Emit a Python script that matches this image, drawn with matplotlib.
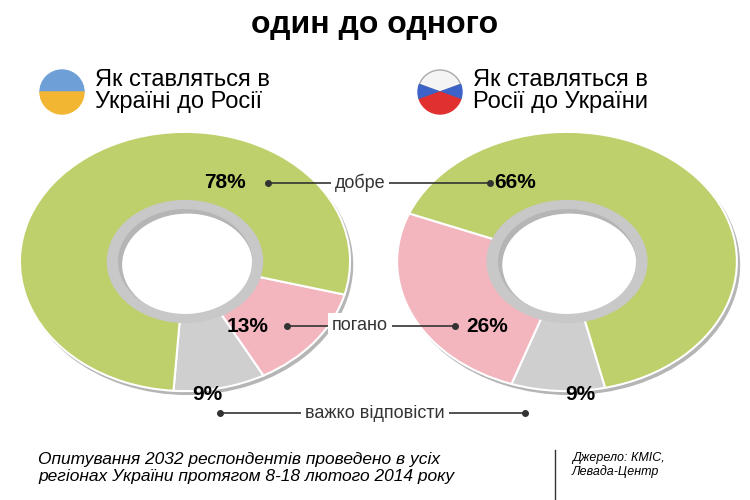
import matplotlib.pyplot as plt
from matplotlib.patches import Wedge

# data
labels = ['добре', 'погано', 'важко відповісти']
ua_to_ru = [78, 13, 9]
ru_to_ua = [66, 26, 9]
colors = ['#bdd06b', '#f3b6bf', '#cfcfcf']

title = 'один до одного'
head_left = 'Як ставляться в\nУкраїні до Росії'
head_right = 'Як ставляться в\nРосії до України'
note = 'Опитування 2032 респондентів проведено в усіх\nрегіонах України протягом 8-18 лютого 2014 року'
source = 'Джерело: КМІС,\nЛевада-Центр'

plt.rcParams['font.family'] = ['Liberation Sans', 'DejaVu Sans']
W, H = 750, 500
fig = plt.figure(figsize=(7.5, 5), dpi=100)

def donut(x0, x1, y0, y1, vals, start, clockwise):
    ax = fig.add_axes([x0 / W, 1 - y1 / H, (x1 - x0) / W, (y1 - y0) / H])
    ax.add_patch(Wedge((0.015, -0.025), 1.0, 0, 360, width=0.6, color='#b5b5b5', zorder=0))
    ax.pie(vals, colors=colors[::-1], radius=1.0, startangle=start, counterclock=not clockwise,
           wedgeprops=dict(width=0.57, edgecolor='white', linewidth=1.5))
    ax.add_patch(Wedge((0, 0), 0.47, 0, 360, width=0.06, color='#c8c8c8'))
    ax.set_aspect('auto')
    ax.set_xlim(-1.03, 1.03)
    ax.set_ylim(-1.03, 1.03)
    ax.axis('off')

donut(15, 355, 128, 395, ua_to_ru[::-1], 266, False)
donut(392, 742, 128, 395, ru_to_ua[::-1], 283, True)

ov = fig.add_axes([0, 0, 1, 1])
ov.set_xlim(0, W)
ov.set_ylim(H, 0)
ov.axis('off')

ov.text(375, 25, title, ha='center', va='center', fontsize=23, fontweight='bold')

# flags (y axis inverted: 180-360 is the upper half)
ov.add_patch(Wedge((62, 92), 22, 180, 360, color='#6e9fd6'))
ov.add_patch(Wedge((62, 92), 22, 0, 180, color='#f2b632'))
ov.add_patch(Wedge((440, 92), 22, 200, 340, color='#f4f4f4', ec='#aaaaaa'))
ov.add_patch(Wedge((440, 92), 22, 160, 200, color='#3d63c8'))
ov.add_patch(Wedge((440, 92), 22, -20, 20, color='#3d63c8'))
ov.add_patch(Wedge((440, 92), 22, 20, 160, color='#e03030'))
ov.text(95, 91, head_left, ha='left', va='center', fontsize=17, linespacing=1.0)
ov.text(473, 91, head_right, ha='left', va='center', fontsize=17, linespacing=1.0)

# percent labels
lpos = [(225, 183), (248, 326), (207, 395)]
rpos = [(515, 183), (487, 326), (580, 395)]
for v, (x, y) in zip(ua_to_ru, lpos):
    ov.text(x, y, f'{v}%', ha='center', va='center', fontsize=15, fontweight='bold', zorder=4)
for v, (x, y) in zip(ru_to_ua, rpos):
    ov.text(x, y, f'{v}%', ha='center', va='center', fontsize=15, fontweight='bold', zorder=4)

# leader lines with category labels
leaders = [(183, 268, 490, 360), (326, 287, 455, 360), (413, 220, 525, 375)]
for lab, (y, xa, xb, xc) in zip(labels, leaders):
    ov.text(xc, y, lab, ha='center', va='center', fontsize=13, color='#333333',
            bbox=dict(facecolor='white', edgecolor='none', pad=3), zorder=3)
    ov.plot([xa, xb], [y, y], color='#333333', lw=1.2, zorder=2)
    ov.plot([xa, xb], [y, y], 'o', color='#333333', ms=4, zorder=2)

ov.text(38, 468, note, ha='left', va='center', fontsize=12.5, style='italic', linespacing=1.1)
ov.plot([555, 555], [450, 500], color='#333333', lw=1)
ov.text(572, 465, source, ha='left', va='center', fontsize=9, style='italic', linespacing=1.2)

fig.savefig('out.png', dpi=100)
